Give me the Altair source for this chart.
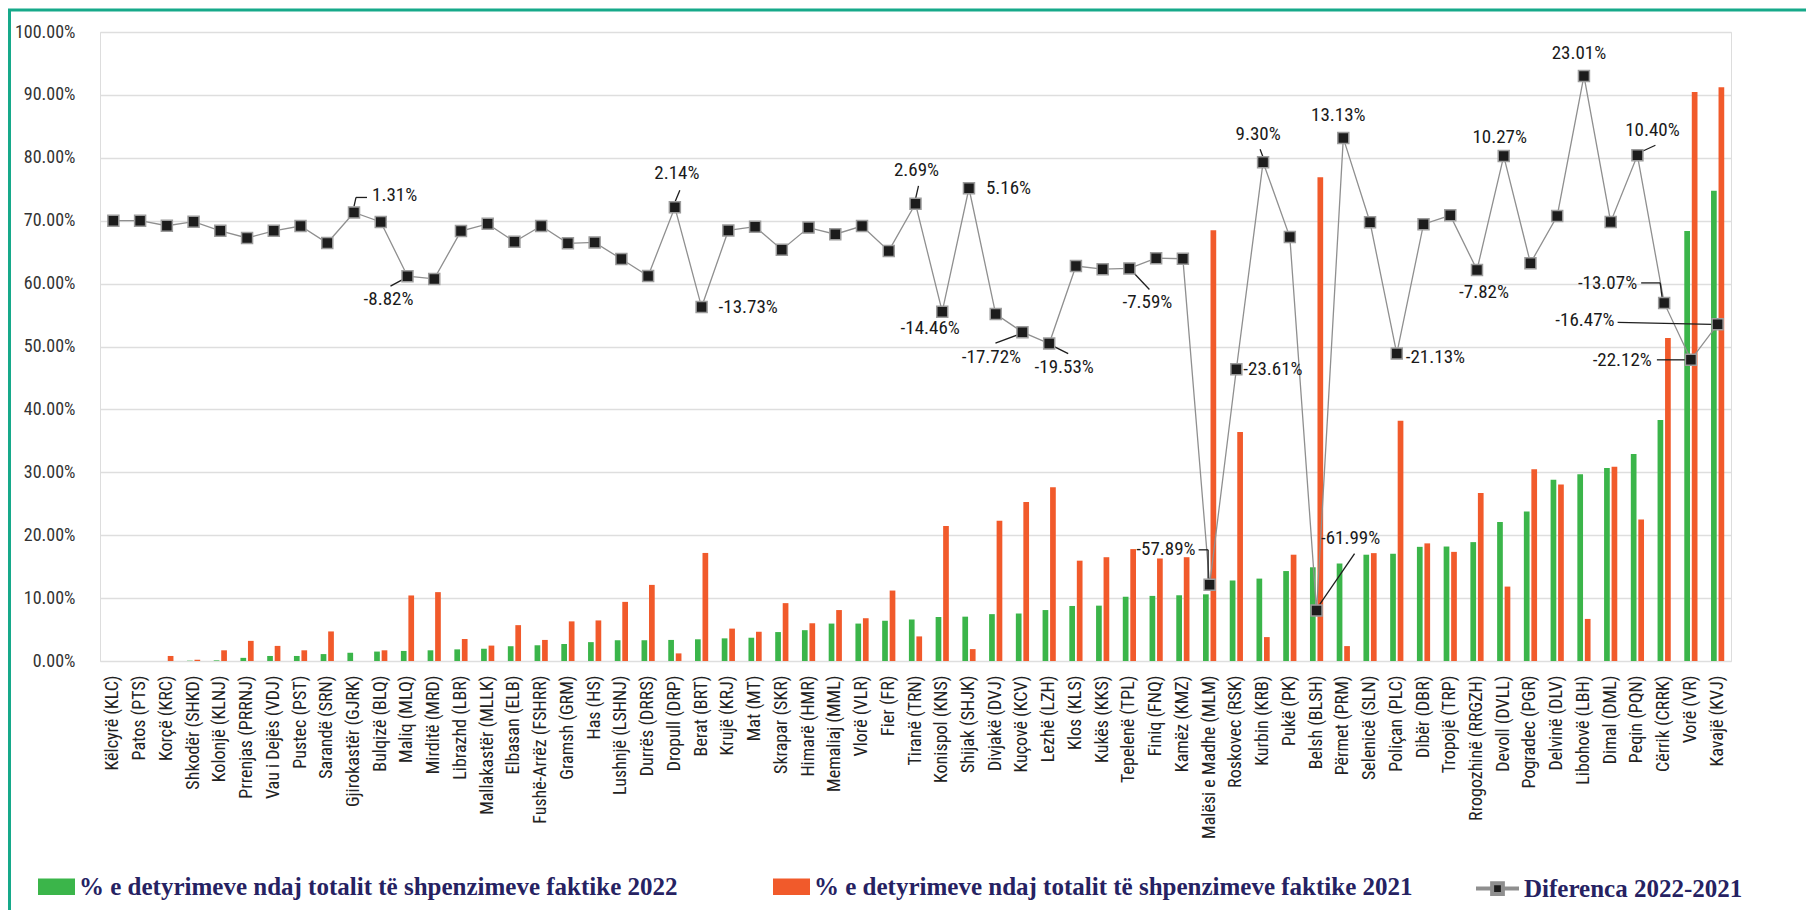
import altair as alt
import pandas as pd

cats = [
    "Këlcyrë (KLC)", "Patos (PTS)", "Korçë (KRC)", "Shkodër (SHKD)", "Kolonjë (KLNJ)",
    "Prrenjas (PRRNJ)", "Vau i Dejës (VDJ)", "Pustec (PST)", "Sarandë (SRN)", "Gjirokastër (GJRK)",
    "Bulqizë (BLQ)", "Maliq (MLQ)", "Mirditë (MRD)", "Librazhd (LBR)", "Mallakastër (MLLK)",
    "Elbasan (ELB)", "Fushë-Arrëz (FSHRR)", "Gramsh (GRM)", "Has (HS)", "Lushnjë (LSHNJ)",
    "Durrës (DRRS)", "Dropull (DRP)", "Berat (BRT)", "Krujë (KRJ)", "Mat (MT)",
    "Skrapar (SKR)", "Himarë (HMR)", "Memaliaj (MML)", "Vlorë (VLR)", "Fier (FR)",
    "Tiranë (TRN)", "Konispol (KNS)", "Shijak (SHJK)", "Divjakë (DVJ)", "Kuçovë (KCV)",
    "Lezhë (LZH)", "Klos (KLS)", "Kukës (KKS)", "Tepelenë (TPL)", "Finiq (FNQ)",
    "Kamëz (KMZ)", "Malësi e Madhe (MLM)", "Roskovec (RSK)", "Kurbin (KRB)", "Pukë (PK)",
    "Belsh (BLSH)", "Përmet (PRM)", "Selenicë (SLN)", "Poliçan (PLC)", "Dibër (DBR)",
    "Tropojë (TRP)", "Rrogozhinë (RRGZH)", "Devoll (DVLL)", "Pogradec (PGR)", "Delvinë (DLV)",
    "Libohovë (LBH)", "Dimal (DML)", "Peqin (PQN)", "Cërrik (CRRK)", "Vorë (VR)",
    "Kavajë (KVJ)",
]

share_2022 = [
    0.0, 0.0, 0.0, 0.05, 0.1,
    0.5, 0.8, 0.8, 1.1, 1.31,
    1.5, 1.6, 1.7, 1.85, 1.95,
    2.35, 2.5, 2.7, 3.0, 3.3,
    3.3, 3.35, 3.45, 3.6, 3.7,
    4.6, 4.9, 5.95, 5.95, 6.4,
    6.6, 7.0, 7.05, 7.45, 7.55,
    8.1, 8.75, 8.8, 10.2, 10.35,
    10.45, 10.6, 12.8, 13.1, 14.3,
    14.9, 15.5, 16.9, 17.05, 18.15,
    18.2, 18.9, 22.1, 23.75, 28.8,
    29.7, 30.7, 32.9, 38.3, 68.35,
    74.75,
]

share_2021 = [
    0.0, 0.0, 0.8, 0.2, 1.7,
    3.2, 2.4, 1.7, 4.7, 0.0,
    1.7, 10.42, 10.95, 3.5, 2.45,
    5.7, 3.35, 6.3, 6.45, 9.4,
    12.1, 1.21, 17.18, 5.15, 4.65,
    9.2, 6.0, 8.1, 6.8, 11.2,
    3.91, 21.46, 1.89, 22.3, 25.27,
    27.63, 15.95, 16.5, 17.79, 16.3,
    16.5, 68.49, 36.41, 3.8, 16.9,
    76.89, 2.37, 17.15, 38.18, 18.7,
    17.35, 26.72, 11.83, 30.5, 28.05,
    6.69, 30.9, 22.5, 51.37, 90.47,
    91.22,
]

difference = [
    0.0, 0.0, -0.8, -0.15, -1.6,
    -2.75, -1.6, -0.85, -3.55, 1.31,
    -0.2, -8.82, -9.25, -1.65, -0.5,
    -3.35, -0.85, -3.6, -3.45, -6.1,
    -8.8, 2.14, -13.73, -1.55, -0.95,
    -4.6, -1.1, -2.15, -0.85, -4.8,
    2.69, -14.46, 5.16, -14.85, -17.72,
    -19.53, -7.2, -7.7, -7.59, -5.95,
    -6.05, -57.89, -23.61, 9.30, -2.6,
    -61.99, 13.13, -0.25, -21.13, -0.55,
    0.85, -7.82, 10.27, -6.75, 0.75,
    23.01, -0.2, 10.40, -13.07, -22.12,
    -16.47,
]

L22 = "% e detyrimeve ndaj totalit të shpenzimeve faktike 2022"
L21 = "% e detyrimeve ndaj totalit të shpenzimeve faktike 2021"
LD = "Diferenca 2022-2021"

# label placement (align, dx, dy) in pixels relative to the marker
labels = {
    "Gjirokastër (GJRK)": ("left", 18, -17),
    "Maliq (MLQ)": ("center", -19, 23),
    "Dropull (DRP)": ("center", 2, -34),
    "Berat (BRT)": ("left", 17, 0),
    "Tiranë (TRN)": ("center", 1, -34),
    "Konispol (KNS)": ("center", -12, 16),
    "Shijak (SHJK)": ("left", 17, 0),
    "Kuçovë (KCV)": ("center", -31, 25),
    "Lezhë (LZH)": ("center", 15, 23),
    "Tepelenë (TPL)": ("center", 18, 34),
    "Malësi e Madhe (MLM)": ("right", -14, -36),
    "Roskovec (RSK)": ("left", 7, 0),
    "Kurbin (KRB)": ("center", -5, -28),
    "Belsh (BLSH)": ("center", 34, -73),
    "Përmet (PRM)": ("center", -5, -23),
    "Poliçan (PLC)": ("left", 9, 3),
    "Rrogozhinë (RRGZH)": ("center", 7, 22),
    "Devoll (DVLL)": ("center", -4, -19),
    "Libohovë (LBH)": ("center", -5, -23),
    "Peqin (PQN)": ("center", 15, -25),
    "Cërrik (CRRK)": ("right", -27, -20),
    "Vorë (VR)": ("right", -39, 0),
    "Kavajë (KVJ)": ("right", -103, -4),
}

# leader segments (x1, y1, x2, y2) in pixels relative to the marker
leaders = {
    "Gjirokastër (GJRK)": [(0, -6, 2, -15), (2, -15, 13, -15)],
    "Maliq (MLQ)": [(-4, 3, -17, 10)],
    "Dropull (DRP)": [(0, -5, 5, -17)],
    "Tiranë (TRN)": [(0, -5, 3, -18)],
    "Kuçovë (KCV)": [(-3, 2, -27, 11)],
    "Lezhë (LZH)": [(5, 3, 19, 10)],
    "Tepelenë (TPL)": [(4, 4, 20, 21)],
    "Malësi e Madhe (MLM)": [(-11, -35, -1.5, -35), (-1.5, -35, -1.5, -6)],
    "Kurbin (KRB)": [(-3, -13, 0, -5)],
    "Belsh (BLSH)": [(3, -6, 38, -57)],
    "Peqin (PQN)": [(5, -4, 18, -10)],
    "Cërrik (CRRK)": [(-23, -20, -4, -20), (-4, -20, -2, -5)],
    "Vorë (VR)": [(-34, 0, -5, 0)],
    "Kavajë (KVJ)": [(-100, -2, -6, 0)],
}

df = pd.DataFrame({"cat": cats, L22: share_2022, L21: share_2021,
                   "diff": difference, "serie": LD})

W, H = 1631, 629
PL, PT, PR, PB = 92, 24, 75, 249
SANS = "Liberation Sans Narrow, Roboto Condensed, Roboto, sans-serif"
GREEN = "#3bb54a"
ORANGE = "#f15a2b"
TEAL = "#16a98a"


def xenc():
    return alt.X(
        "cat:N", sort=cats,
        scale=alt.Scale(domain=cats, paddingInner=0.506, paddingOuter=0.253),
        axis=alt.Axis(title=None, labelAngle=-90, labelPadding=14, ticks=False,
                      domain=False, labelFont=SANS, labelFontSize=18,
                      labelColor="#222222", labelLimit=400, labelOverlap=False),
    )


ydiff_scale = alt.Scale(domain=[-70, 30], nice=False, zero=False)

bars = alt.Chart().transform_fold([L22, L21], as_=["series", "value"]).mark_bar().encode(
    x=xenc(),
    xOffset=alt.XOffset("series:N", sort=[L22, L21],
                        scale=alt.Scale(domain=[L22, L21], paddingInner=0.24, paddingOuter=0)),
    y=alt.Y("value:Q", scale=alt.Scale(domain=[0, 100], nice=False),
            axis=alt.Axis(title=None, values=list(range(0, 101, 10)),
                          labelExpr="format(datum.value, '.2f') + '%'",
                          grid=True, gridColor="#dedede", gridWidth=1.5,
                          ticks=False, domain=False, labelPadding=25,
                          labelFont=SANS, labelFontSize=18, labelColor="#333333")),
    color=alt.Color("series:N", sort=[L22, L21],
                    scale=alt.Scale(domain=[L22, L21], range=[GREEN, ORANGE]),
                    legend=alt.Legend(title=None, orient="none", legendX=-62, legendY=836,
                                      direction="horizontal",
                                      symbolType="M-1,-0.45H1V0.45H-1Z", symbolSize=1369,
                                      symbolStrokeWidth=0, labelFont="Liberation Serif",
                                      labelFontSize=25, labelFontWeight="bold",
                                      labelColor="#262262", labelOffset=4,
                                      columnPadding=95, labelLimit=900)),
)

line = alt.Chart().mark_line(strokeWidth=1.3).encode(
    x=xenc(),
    y=alt.Y("diff:Q", scale=ydiff_scale,
            axis=alt.Axis(title=None, orient="right", values=list(range(-70, 31, 10)),
                          labelExpr="replace(format(datum.value, '.2f'), '\u2212', '-') + '%'",
                          grid=False, ticks=False, domain=False, labelPadding=16,
                          labelFont=SANS, labelFontSize=19, labelColor="#333333")),
    stroke=alt.Stroke("serie:N", scale=alt.Scale(domain=[LD], range=["#8f8f8f"]),
                      legend=alt.Legend(title=None, orient="none", legendX=1374, legendY=833,
                                        symbolType="M-1,0H-0.25M0.25,0H1M-0.25,-0.25H0.25V0.25H-0.25Z",
                                        symbolSize=1849, symbolStrokeWidth=4,
                                        symbolFillColor="#1c1c1c",
                                        labelFont="Liberation Serif", labelFontSize=25,
                                        labelFontWeight="bold", labelColor="#262262",
                                        labelOffset=3, labelLimit=900)),
)

ydiff = alt.Y("diff:Q", scale=ydiff_scale, axis=None)

points = alt.Chart().mark_point(shape="square", filled=True, size=121, color="#1c1c1c",
                                stroke="#9c9c9c", strokeWidth=1.5, opacity=1).encode(
    x=xenc(), y=ydiff)

text_layers = []
for name, (al, dx, dy) in labels.items():
    text_layers.append(
        alt.Chart().transform_filter(alt.datum.cat == name).transform_calculate(
            lbl="replace(format(datum.diff, '.2f'), '\u2212', '-') + '%'"
        ).mark_text(align=al, baseline="middle", dx=dx, dy=dy, font=SANS,
                    fontSize=19, color="#1a1a1a").encode(x=xenc(), y=ydiff, text="lbl:N")
    )

leader_layers = []
for name, segs in leaders.items():
    for (x1, y1, x2, y2) in segs:
        leader_layers.append(
            alt.Chart().transform_filter(alt.datum.cat == name).mark_rule(
                color="#1e1e1e", strokeWidth=1.3,
                xOffset=x1, yOffset=y1, x2Offset=x2, y2Offset=y2,
            ).encode(x=xenc(), x2=alt.X2("cat:N"), y=ydiff, y2=alt.Y2("diff:Q"))
        )

diff_layer = alt.layer(line, *leader_layers, points, *text_layers)

frame_df = pd.DataFrame({"k": [0]})
frame_left = alt.Chart(frame_df).mark_rule(color=TEAL, strokeWidth=3).encode(
    x=alt.value(-PL + 1.5), y=alt.value(-PT + 2), y2=alt.value(H + PB))
frame_top = alt.Chart(frame_df).mark_rule(color=TEAL, strokeWidth=3).encode(
    x=alt.value(-PL), x2=alt.value(W + PR), y=alt.value(-PT + 2))

chart = alt.layer(bars, diff_layer, frame_left, frame_top, data=df).resolve_scale(
    y="independent"
).properties(
    width=W, height=H,
    padding={"left": PL, "top": PT, "right": PR, "bottom": PB},
    autosize=alt.AutoSizeParams(type="none"),
).configure_view(stroke=None).configure(background="white")

chart.save("out.html", embed_options={"renderer": "svg", "actions": False})
